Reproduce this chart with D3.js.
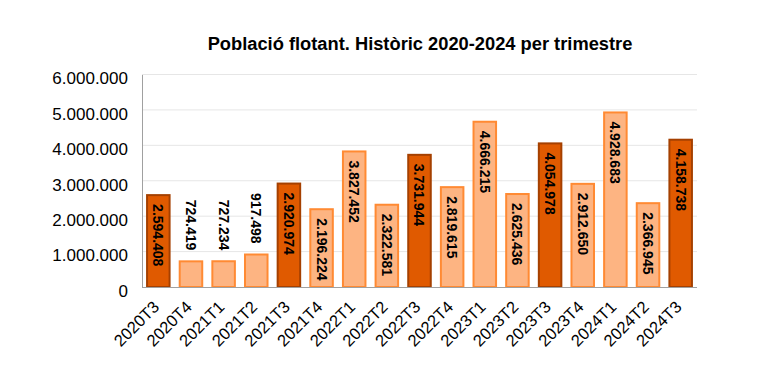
<!DOCTYPE html>
<html>
<head>
<meta charset="utf-8">
<script src="https://cdn.jsdelivr.net/npm/d3@7"></script>
<style>
  html, body { margin: 0; padding: 0; background: #fff; }
  svg { display: block; font-family: "Liberation Sans", Arial, sans-serif; }
</style>
</head>
<body>
<svg id="chart" width="763" height="380"></svg>
<script>
const categories = ["2020T3","2020T4","2021T1","2021T2","2021T3","2021T4","2022T1","2022T2","2022T3","2022T4","2023T1","2023T2","2023T3","2023T4","2024T1","2024T2","2024T3"];
const values = [2594408, 724419, 727234, 917498, 2920974, 2196224, 3827452, 2322581, 3731944, 2819615, 4666215, 2625436, 4054978, 2912650, 4928683, 2366945, 4158738];
const highlighted = ["2020T3","2021T3","2022T3","2023T3","2024T3"];
const yTicks = [0, 1000000, 2000000, 3000000, 4000000, 5000000, 6000000];
const title = "Població flotant. Històric 2020-2024 per trimestre";

const svg = d3.select("#chart");
const margin = {left: 142, right: 66, top: 74.5, bottom: 93};
const W = 763, H = 380;
const x = d3.scaleBand().domain(categories).range([margin.left, W - margin.right]).paddingInner(0.31).paddingOuter(0.155);
const y = d3.scaleLinear().domain([0, 6000000]).range([H - margin.bottom, margin.top]);

const fmt = v => d3.format(",")(v).replace(/,/g, ".");

// gridlines
svg.append("g").selectAll("line").data(yTicks.filter(t => t > 0)).join("line")
  .attr("x1", margin.left).attr("x2", W - margin.right)
  .attr("y1", d => y(d)).attr("y2", d => y(d))
  .attr("stroke", "#e6e6e6").attr("stroke-width", 1);

// y axis
const yAxis = d3.axisLeft(y).tickValues(yTicks).tickFormat(fmt).tickSize(0).tickPadding(14);
const gy = svg.append("g").attr("transform", `translate(${margin.left},0)`).call(yAxis);
gy.select(".domain").attr("stroke", "#a0a0a0");
gy.selectAll("text").attr("font-size", 17).attr("fill", "#000").attr("dy", "0.55em")
  .attr("font-family", "Liberation Sans, Arial, sans-serif");

// bars
const isHi = d => highlighted.includes(d);
svg.append("g").selectAll("rect").data(categories).join("rect")
  .attr("x", d => x(d)).attr("width", x.bandwidth())
  .attr("y", (d, i) => y(values[i])).attr("height", (d, i) => y(0) - y(values[i]))
  .attr("fill", d => isHi(d) ? "#e05a00" : "#fdb482")
  .attr("stroke", d => isHi(d) ? "#a54000" : "#ff8a33")
  .attr("stroke-width", 2);

// x axis
const xAxis = d3.axisBottom(x).tickSize(0).tickFormat(d => d);
const gx = svg.append("g").attr("transform", `translate(0,${y(0)})`).call(xAxis);
gx.select(".domain").attr("stroke", "#a0a0a0").attr("d", `M${margin.left},0.5H${W - margin.right}`);
gx.selectAll("text")
  .attr("font-size", 16.5).attr("fill", "#000")
  .attr("font-family", "Liberation Sans, Arial, sans-serif")
  .attr("text-anchor", "end")
  .attr("dy", null).attr("y", 0)
  .attr("transform", "translate(2,21) rotate(-45)");

// value labels
svg.append("g").selectAll("text").data(categories).join("text")
  .attr("transform", (d, i) => {
    const cx = x(d) + x.bandwidth() / 2;
    const inside = values[i] > 1500000;
    const yy = inside ? y(values[i]) + 9 : y(values[i]) - 11;
    return `translate(${cx},${yy}) rotate(90)`;
  })
  .attr("text-anchor", (d, i) => values[i] > 1500000 ? "start" : "end")
  .attr("dy", "0.36em")
  .attr("font-size", 14).attr("font-weight", "bold").attr("fill", "#000")
  .text((d, i) => fmt(values[i]));

// title
svg.append("text").attr("x", 420).attr("y", 50).attr("text-anchor", "middle")
  .attr("font-size", 18.3).attr("font-weight", "bold").attr("fill", "#000")
  .text(title);
</script>
</body>
</html>
